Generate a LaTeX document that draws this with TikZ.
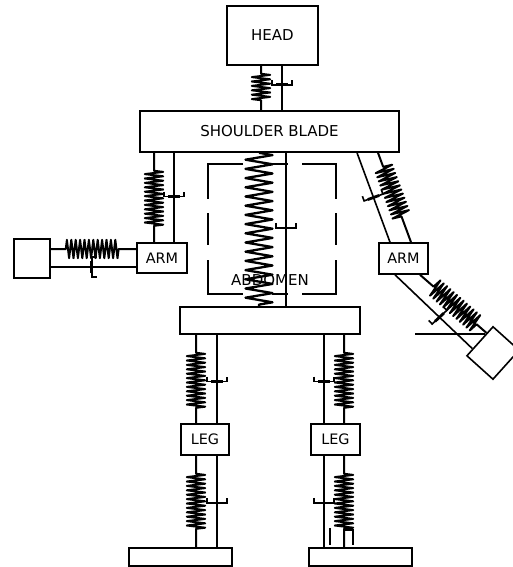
\documentclass[tikz,border=0pt]{standalone}
\usepackage{fontspec}
\setmainfont{DejaVu Sans}
\usetikzlibrary{decorations.pathmorphing}

\begin{document}
\begin{tikzpicture}[x=1pt,y=-1pt]
\tikzset{
  bodybox/.style={rectangle,draw,line width=1.6pt,inner sep=0pt,font=\fontsize{15}{17}\selectfont},
  smallbox/.style={bodybox,font=\fontsize{14.4}{17}\selectfont},
  linkline/.style={line width=1.6pt},
  springline/.style 2 args={line width=2pt,line join=round,decorate,decoration={zigzag,segment length=4.4pt,amplitude=9.2pt,pre length=#1,post length=#2}},
  zigline/.style={line width=2.3pt,line join=round,decorate,decoration={zigzag,segment length=9.2pt,amplitude=13.5pt}},
  damper/.pic={
    \draw[linkline] (-10,-5) -- (-10,0) -- (10,0) -- (10,-5);
    \draw[line width=2.8pt] (-6,0) -- (6,0);
  }
}
\useasboundingbox (0,0) rectangle (513,567);
% body blocks
\node[bodybox,minimum width=91pt,minimum height=59pt] (n_head) at (272.5,35.5) {HEAD};
\node[bodybox,minimum width=259pt,minimum height=41pt] (n_shoulder) at (269.5,131.5) {SHOULDER BLADE};
\node[smallbox,minimum width=50pt,minimum height=30pt] (n_armL) at (162,258) {ARM};
\node[bodybox,minimum width=36pt,minimum height=39pt] (n_handL) at (32,258.5) {};
\node[smallbox,minimum width=49pt,minimum height=31pt] (n_armR) at (403.5,258.5) {ARM};
\node[bodybox,minimum width=35pt,minimum height=39pt,rotate=-42] (n_handR) at (493,353) {};
\node[bodybox,minimum width=180pt,minimum height=27pt] (n_pelvis) at (270,320.5) {};
\node[smallbox,minimum width=48pt,minimum height=31pt] (n_legL) at (205,439.5) {LEG};
\node[smallbox,minimum width=49pt,minimum height=31pt] (n_legR) at (335.5,439.5) {LEG};
\node[bodybox,minimum width=103pt,minimum height=18pt] (n_footL) at (180.5,557) {};
\node[bodybox,minimum width=103pt,minimum height=18pt] (n_footR) at (360.5,557) {};
% neck
\draw[springline={8pt}{9pt}] ([xshift=-11.5pt]n_head.south) -- ([xshift=-8.5pt]n_shoulder.north);
\draw[linkline] ([xshift=9.5pt]n_head.south) -- pic[pos=.43]{damper} ([xshift=12.5pt]n_shoulder.north);
% abdomen
\draw[zigline] ([xshift=-10.5pt]n_shoulder.south) -- ([xshift=-11pt]n_pelvis.north);
\draw[linkline] ([xshift=16.5pt]n_shoulder.south) -- pic[pos=.49]{damper} ([xshift=16pt]n_pelvis.north);
\draw[linkline] (243,164) -- (208,164) -- (208,199);
\draw[linkline] (208,213) -- (208,245);
\draw[linkline] (208,260) -- (208,294) -- (243,294);
\draw[linkline] (272,164) -- (288,164);
\draw[linkline] (272,294) -- (288,294);
\draw[linkline] (302,164) -- (336,164) -- (336,199);
\draw[linkline] (336,213) -- (336,245);
\draw[linkline] (336,260) -- (336,294) -- (302,294);
\node[font=\fontsize{15}{17}\selectfont,inner sep=0pt] (n_abdomen) at (270,280) {ABDOMEN};
% left arm
\draw[springline={18pt}{16pt}] ([xshift=-115.5pt]n_shoulder.south) -- ([xshift=-8pt]n_armL.north);
\draw[linkline] ([xshift=-95.5pt]n_shoulder.south) -- pic[pos=.49]{damper} ([xshift=12pt]n_armL.north);
\draw[springline={15pt}{16pt}] ([yshift=9.5pt]n_handL.east) -- ([yshift=9pt]n_armL.west);
\draw[linkline] ([yshift=-8.5pt]n_handL.east) -- pic[pos=.48,rotate=-90]{damper} ([yshift=-9pt]n_armL.west);
% right arm
\draw[springline={15pt}{26pt}] ([xshift=108.5pt]n_shoulder.south) -- ([xshift=7.5pt]n_armR.north);
\draw[linkline] ([xshift=87.5pt]n_shoulder.south) -- pic[pos=.5,rotate=20]{damper} ([xshift=-13.5pt]n_armR.north);
\draw[springline={18pt}{11pt}] ([xshift=16.5pt]n_armR.south) -- (n_handR.150);
\draw[linkline] ([xshift=-8.5pt]n_armR.south) -- pic[pos=.575,rotate=43]{damper} (n_handR.210);
\draw[linkline] (415,334) -- (485,334);
% left leg
\draw[springline={18pt}{15pt}] ([xshift=-74pt]n_pelvis.south) -- ([xshift=-9pt]n_legL.north);
\draw[linkline] ([xshift=-53pt]n_pelvis.south) -- pic[pos=.53]{damper} ([xshift=12pt]n_legL.north);
\draw[springline={18pt}{17pt}] ([xshift=-9pt]n_legL.south) -- ([xshift=15.5pt]n_footL.north);
\draw[linkline] ([xshift=12pt]n_legL.south) -- pic[pos=.516]{damper} ([xshift=36.5pt]n_footL.north);
% right leg
\draw[springline={18pt}{15pt}] ([xshift=74pt]n_pelvis.south) -- ([xshift=8.5pt]n_legR.north);
\draw[linkline] ([xshift=54pt]n_pelvis.south) -- pic[pos=.53]{damper} ([xshift=-11.5pt]n_legR.north);
\draw[springline={18pt}{17pt}] ([xshift=8.5pt]n_legR.south) -- ([xshift=-16.5pt]n_footR.north);
\draw[linkline] ([xshift=-11.5pt]n_legR.south) -- pic[pos=.516]{damper} ([xshift=-36.5pt]n_footR.north);
\draw[linkline] (330,528) -- (330,545);
\draw[linkline] (345,530) -- (353,530) -- (353,545);
\end{tikzpicture}
\end{document}
